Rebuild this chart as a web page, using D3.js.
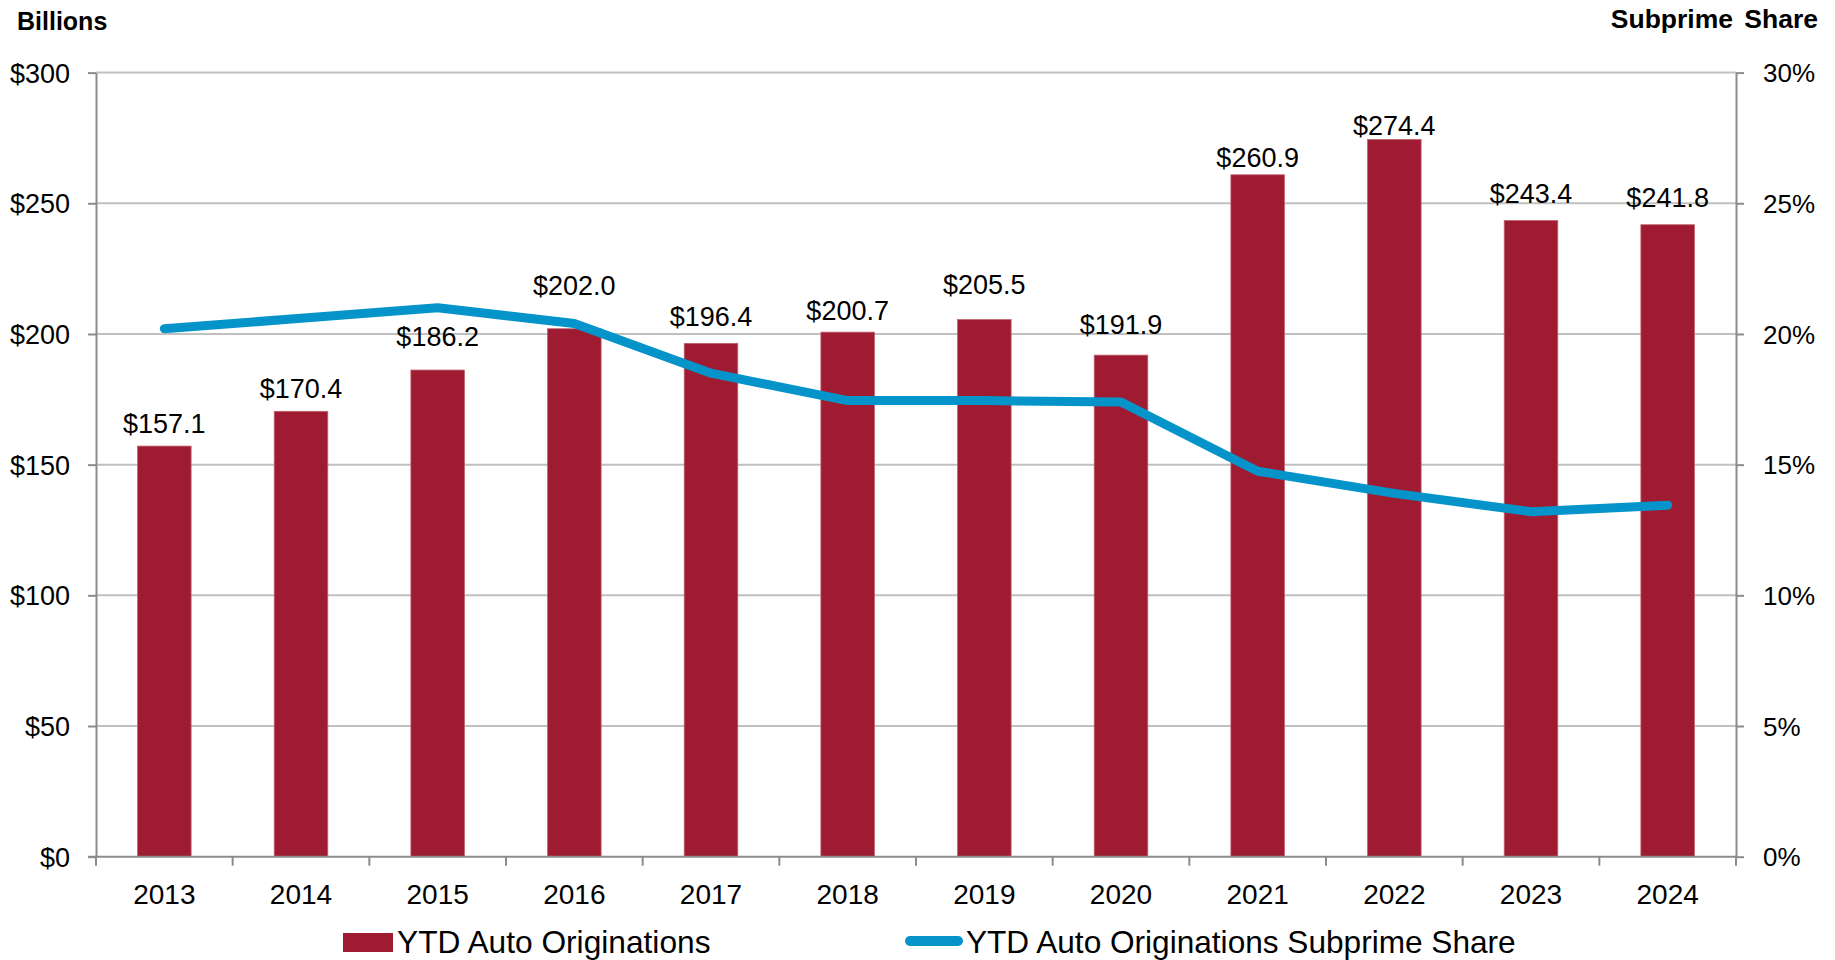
<!DOCTYPE html>
<html>
<head>
<meta charset="utf-8">
<script src="https://cdn.jsdelivr.net/npm/d3@7"></script>
<style>
  html, body { margin: 0; padding: 0; background: #fff; }
  svg { display: block; font-family: "Liberation Sans", Arial, sans-serif; }
</style>
</head>
<body>
<svg width="1835" height="960"></svg>
<script>
// values
var years = ["2013", "2014", "2015", "2016", "2017", "2018", "2019", "2020", "2021", "2022", "2023", "2024"];
var originations = [157.1, 170.4, 186.2, 202.0, 196.4, 200.7, 205.5, 191.9, 260.9, 274.4, 243.4, 241.8];
var subprimeShare = [20.2, 20.6, 21.0, 20.4, 18.5, 17.45, 17.45, 17.4, 14.75, 13.9, 13.2, 13.45];
var leftTicks = [0, 50, 100, 150, 200, 250, 300];
var rightTicks = [0, 5, 10, 15, 20, 25, 30];
var seriesNames = ["YTD Auto Originations", "YTD Auto Originations Subprime Share"];

// label nudges (px above bar top), labels were hand-placed around the line
var labelLift = [23, 23, 33, 43, 27, 22, 35, 31, 17, 14, 27, 27];

var svg = d3.select("svg"),
    width = +svg.attr("width"),
    height = +svg.attr("height");

var barColor = "#9e1b32",
    lineColor = "#0494c9",
    gridColor = "#c0c0c0",
    axColor = "#8c8c8c";

var plotLeft = 96, plotRight = 1736, plotTop = 72.6, plotBottom = 856.7;

var x = d3.scaleBand()
    .domain(years)
    .range([plotLeft, plotRight])
    .paddingInner(0.608)
    .paddingOuter(0.304);

var y = d3.scaleLinear().domain([0, 300]).range([plotBottom, plotTop]);
var y2 = d3.scaleLinear().domain([0, 30]).range([plotBottom, plotTop]);

// gridlines
svg.append("g")
    .selectAll("line")
    .data(leftTicks.filter(function (d) { return d > 0; }))
    .enter().append("line")
    .attr("x1", plotLeft).attr("x2", plotRight)
    .attr("y1", function (d) { return y(d); })
    .attr("y2", function (d) { return y(d); })
    .attr("stroke", gridColor)
    .attr("stroke-width", 2);

// bars
svg.append("g")
    .selectAll("rect")
    .data(originations)
    .enter().append("rect")
    .attr("x", function (d, i) { return x(years[i]); })
    .attr("y", function (d) { return y(d); })
    .attr("width", x.bandwidth())
    .attr("height", function (d) { return y(0) - y(d); })
    .attr("fill", barColor)
    .attr("stroke", "#c2616f")
    .attr("stroke-width", 0.8);

// left axis
var axL = svg.append("g")
    .attr("transform", "translate(" + plotLeft + ",0)")
    .call(d3.axisLeft(y).tickValues(leftTicks).tickSize(8).tickSizeOuter(0).tickPadding(18)
        .tickFormat(function (d) { return "$" + d; }));

// right axis
var axR = svg.append("g")
    .attr("transform", "translate(" + plotRight + ",0)")
    .call(d3.axisRight(y2).tickValues(rightTicks).tickSize(8).tickSizeOuter(0).tickPadding(19)
        .tickFormat(function (d) { return d + "%"; }));

[axL, axR].forEach(function (ax) {
    ax.select(".domain").attr("stroke", axColor).attr("stroke-width", 2);
    ax.selectAll(".tick line").attr("stroke", axColor).attr("stroke-width", 2);
    ax.selectAll(".tick text")
        .attr("fill", "#000")
        .style("font-family", "'Liberation Sans', Arial, sans-serif");
});
axL.selectAll(".tick text").style("font-size", "27px").attr("dy", "0.35em");
axR.selectAll(".tick text").style("font-size", "26px").attr("dy", "0.35em");

// bottom axis: labels at centers, ticks at band boundaries
var axB = svg.append("g")
    .attr("transform", "translate(0," + plotBottom + ")")
    .call(d3.axisBottom(x).tickSize(0).tickPadding(27));
axB.select(".domain").attr("stroke", axColor).attr("stroke-width", 2)
    .attr("d", "M" + (plotLeft - 8) + ",0H" + plotRight);
axB.selectAll(".tick text")
    .attr("fill", "#000")
    .style("font-size", "28px")
    .style("font-family", "'Liberation Sans', Arial, sans-serif");

var step = x.step();
function boundary(i) {
    return i < years.length ? x(years[i]) - step * 0.304 : x(years[i - 1]) + x.bandwidth() + step * 0.304;
}
svg.append("g")
    .selectAll("line")
    .data(d3.range(years.length + 1))
    .enter().append("line")
    .attr("x1", boundary)
    .attr("x2", boundary)
    .attr("y1", plotBottom)
    .attr("y2", plotBottom + 9)
    .attr("stroke", axColor)
    .attr("stroke-width", 2);

// subprime share line
var line = d3.line()
    .x(function (d, i) { return x(years[i]) + x.bandwidth() / 2; })
    .y(function (d) { return y2(d); });

svg.append("path")
    .datum(subprimeShare)
    .attr("d", line)
    .attr("fill", "none")
    .attr("stroke", lineColor)
    .attr("stroke-width", 9)
    .attr("stroke-linecap", "round")
    .attr("stroke-linejoin", "round");

// data labels
svg.append("g")
    .selectAll("text")
    .data(originations)
    .enter().append("text")
    .attr("x", function (d, i) { return x(years[i]) + x.bandwidth() / 2; })
    .attr("y", function (d, i) { return y(d) - labelLift[i]; })
    .attr("dy", "0.35em")
    .attr("text-anchor", "middle")
    .style("font-size", "27px")
    .attr("fill", "#000")
    .text(function (d) { return "$" + d.toFixed(1); });

// axis titles
svg.append("text")
    .attr("x", 17).attr("y", 30)
    .style("font-size", "25px").style("font-weight", "bold")
    .text("Billions");

svg.append("text")
    .attr("x", 1818).attr("y", 28)
    .attr("text-anchor", "end")
    .style("font-size", "26.5px").style("font-weight", "bold")
    .style("word-spacing", "4px")
    .text("Subprime Share");

// legend
var legend = svg.append("g");
legend.append("rect")
    .attr("x", 343).attr("y", 933)
    .attr("width", 50).attr("height", 19)
    .attr("fill", barColor);
legend.append("text")
    .attr("x", 397).attr("y", 953)
    .style("font-size", "31.7px")
    .text(seriesNames[0]);
legend.append("line")
    .attr("x1", 910).attr("x2", 958)
    .attr("y1", 941).attr("y2", 941)
    .attr("stroke", lineColor)
    .attr("stroke-width", 10)
    .attr("stroke-linecap", "round");
legend.append("text")
    .attr("x", 966).attr("y", 953)
    .style("font-size", "31.6px")
    .text(seriesNames[1]);
</script>
</body>
</html>
